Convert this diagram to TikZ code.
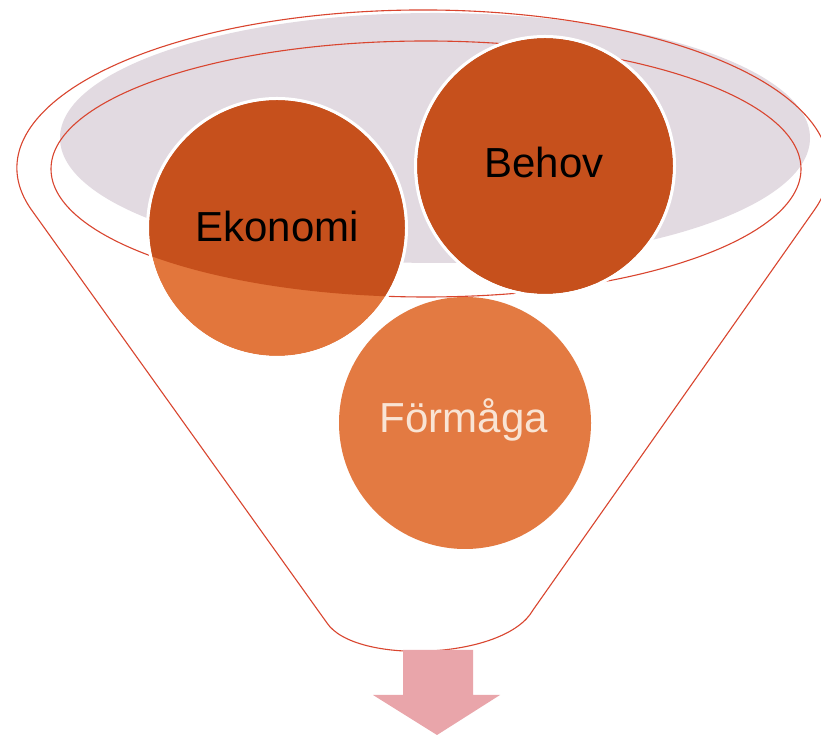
\documentclass[tikz,border=0pt]{standalone}
\usepackage{fontspec}
\setmainfont{Liberation Sans}
\definecolor{rimred}{HTML}{D9452F}
\definecolor{graybg}{HTML}{E2DAE1}
\definecolor{darkor}{HTML}{C6501C}
\definecolor{lightor}{HTML}{E2763C}
\definecolor{formor}{HTML}{E37A42}
\definecolor{formtxt}{HTML}{F9E4D4}
\definecolor{arrowpink}{HTML}{E9A5AA}
\begin{document}
\begin{tikzpicture}[x=1pt,y=1pt,
  rim/.style={draw=rimred, line width=1.1pt},
  ball/.style={circle, minimum size=256pt, inner sep=0pt, outer sep=0pt},
  ring/.style={draw=white, line width=3pt},
  lbl/.style={font=\fontsize{42}{50}\selectfont, anchor=base, inner sep=0pt}]
\useasboundingbox (0,0) rectangle (821,735);
\fill[white] (0,0) rectangle (821,735);
% shaded rim interior
\fill[graybg] (435,597) ellipse[x radius=375pt, y radius=125pt];
% funnel outline
\coordinate (fl) at (30.8,526.1);
\coordinate (fr) at (533,125);
\coordinate (fb) at (327,112);
\draw[rim] (fl) arc[start angle=195, end angle=-15, x radius=406pt, y radius=158pt]
  -- (fr) .. controls (505,75) and (355,70) .. (fb) -- cycle;
% inner ellipse
\draw[rim] (426,566) ellipse[x radius=375pt, y radius=128pt];
% Ekonomi
\node[ball, fill=lightor] (eko) at (277,507) {};
\begin{scope}
  \clip (426,566) ellipse[x radius=375pt, y radius=128pt];
  \fill[darkor] (eko.center) circle[radius=128pt];
\end{scope}
\draw[ring] (eko.center) circle[radius=129.5pt];
\node[lbl, text=black] (ekot) at (277,493) {Ekonomi};
% Behov
\node[ball, fill=darkor] (beh) at (545,569) {};
\draw[ring] (beh.center) circle[radius=129.5pt];
\node[lbl, text=black] (beht) at (544,557) {Behov};
% Formaga
\node[ball, fill=formor, minimum size=252pt] (for) at (465,312) {};
\node[lbl, text=formtxt] (fort) at (464,302) {Förmåga};
% arrow
\fill[arrowpink] (403,85) -- (473,85) -- (473,40) -- (500,40) -- (437,0) -- (373,40) -- (403,40) -- cycle;
\end{tikzpicture}
\end{document}
